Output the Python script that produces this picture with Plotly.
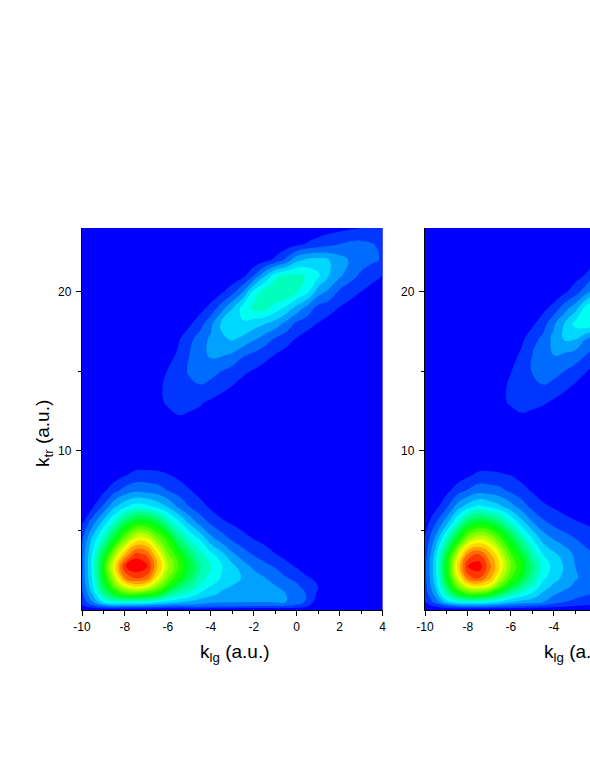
import numpy as np
import plotly.graph_objects as go

k_rows = [0, .25, .5, 1, 1.5, 2, 2.75, 3.5, 4.5, 5.5, 6.5, 7.5, 8.5, 9.5, 10,
          11, 12, 13, 14, 15, 16, 17, 18, 19, 20, 21, 22, 23, 24]
x_cols_left = [-10, -9.5, -9, -8.5, -8, -7.5, -7, -6.5, -6, -5.5, -5, -4.5, -4, -3.5, -3, -2.5, -2,
               -1.5, -1, -.5, 0, .5, 1, 1.5, 2, 2.5, 3, 3.5, 4]
x_cols_right = [-10, -9.5, -9, -8.5, -8, -7.5, -7, -6.5, -6, -5.5, -5, -4.5, -4, -3.5, -3, -2.5, -2]
x_ticks = [-10, -8, -6, -4, -2, 0, 2, 4]
x_tick_text = ["-10", "-8", "-6", "-4", "-2", "0", "2", "4"]

# One list per x column, one value per k row (k = 0 .. 10)
low_left = [
 [0,.04,.06,.085,.10,.11,.115,.113,.09,.045,.01,0,0,0,0],
 [0,.09,.15,.205,.245,.26,.27,.26,.215,.13,.045,.005,0,0,0],
 [0,.13,.25,.36,.43,.47,.5,.44,.32,.22,.11,.04,.002,0,0],
 [0,.16,.29,.47,.59,.67,.735,.64,.46,.31,.19,.085,.02,0,0],
 [0,.15,.29,.55,.71,.85,.945,.80,.6,.42,.24,.12,.045,.005,0],
 [0,.15,.29,.56,.765,.9,1.0,.92,.71,.49,.275,.14,.065,.01,0],
 [0,.14,.28,.53,.735,.88,.965,.89,.71,.49,.265,.135,.065,.015,.005],
 [0,.13,.25,.5,.63,.74,.81,.76,.61,.44,.235,.125,.06,.02,.01],
 [0,.12,.23,.38,.52,.6,.665,.61,.52,.34,.195,.10,.052,.015,.005],
 [0,.11,.21,.32,.41,.5,.555,.51,.38,.265,.14,.08,.035,.01,0],
 [0,.125,.19,.29,.35,.41,.45,.40,.30,.19,.10,.055,.015,0,0],
 [0,.125,.175,.24,.29,.33,.36,.32,.24,.13,.07,.03,.005,0,0],
 [0,.12,.16,.215,.25,.28,.30,.265,.165,.09,.04,.01,0,0,0],
 [0,.115,.155,.19,.215,.245,.255,.215,.125,.06,.02,0,0,0,0],
 [0,.11,.155,.175,.198,.22,.215,.16,.09,.043,.01,0,0,0,0],
 [0,.105,.152,.165,.18,.195,.17,.125,.065,.03,.005,0,0,0,0],
 [0,.10,.15,.16,.172,.17,.14,.095,.048,.02,0,0,0,0,0],
 [0,.10,.15,.16,.16,.153,.115,.075,.032,.005,0,0,0,0,0],
 [0,.10,.155,.163,.153,.13,.095,.052,.02,0,0,0,0,0,0],
 [0,.095,.15,.15,.12,.105,.065,.035,.01,0,0,0,0,0,0],
 [0,.085,.135,.13,.11,.085,.045,.02,0,0,0,0,0,0,0],
 [0,.055,.085,.095,.075,.055,.025,.01,0,0,0,0,0,0,0],
 [0,.01,.02,.04,.05,.04,.02,.005,0,0,0,0,0,0,0],
 [0,0,.005,.01,.015,.015,.005,0,0,0,0,0,0,0,0],
 [0]*15, [0]*15, [0]*15, [0]*15, [0]*15,
]
# One list per k row (k = 11 .. 24), values for x = -7, -6.5 ... 4
high_left = [
 [0,0,.005,.01,.01,.005,0,0,0,0,0,0,0,0,0,0,0,0,0,0,0,0,0],
 [0,.01,.035,.045,.04,.03,.02,.01,0,0,0,0,0,0,0,0,0,0,0,0,0,0,0],
 [.01,.04,.055,.065,.062,.055,.04,.025,.012,0,0,0,0,0,0,0,0,0,0,0,0,0,0],
 [.01,.04,.06,.08,.09,.095,.08,.065,.047,.03,.015,.005,0,0,0,0,0,0,0,0,0,0,0],
 [0,.025,.053,.08,.105,.125,.12,.10,.08,.06,.045,.03,.015,.005,0,0,0,0,0,0,0,0,0],
 [0,.005,.03,.06,.10,.135,.157,.155,.14,.105,.087,.067,.047,.03,.015,.005,0,0,0,0,0,0,0],
 [0,0,.015,.045,.085,.125,.16,.19,.205,.185,.155,.125,.09,.07,.045,.025,.01,0,0,0,0,0,0],
 [0,0,0,.02,.04,.08,.135,.21,.25,.245,.225,.205,.18,.135,.09,.07,.048,.03,.015,.005,0,0,0],
 [0,0,0,0,.01,.03,.065,.125,.195,.27,.315,.325,.28,.24,.185,.135,.085,.07,.048,.03,.015,.005,0],
 [0,0,0,0,0,0,.015,.04,.08,.15,.265,.325,.352,.351,.305,.26,.175,.14,.09,.07,.05,.03,.015],
 [0,0,0,0,0,0,0,0,.015,.035,.10,.19,.28,.31,.315,.295,.26,.2,.16,.12,.09,.07,.05],
 [0,0,0,0,0,0,0,0,0,0,.01,.03,.06,.11,.185,.21,.215,.2,.17,.145,.125,.11,.095],
 [0,0,0,0,0,0,0,0,0,0,0,0,.01,.02,.035,.055,.07,.085,.10,.112,.113,.103,.09],
 [0,0,0,0,0,0,0,0,0,0,0,0,0,0,.005,.01,.02,.03,.035,.043,.05,.055,.06],
]
low_right = [
 [0,.03,.05,.07,.08,.085,.085,.075,.055,.025,.005,0,0,0,0],
 [0,.06,.12,.175,.21,.23,.24,.225,.165,.095,.035,.005,0,0,0],
 [0,.10,.22,.33,.41,.46,.49,.44,.31,.18,.09,.035,.002,0,0],
 [0,.13,.27,.46,.60,.69,.75,.67,.47,.30,.17,.075,.02,0,0],
 [0,.14,.28,.54,.72,.87,.955,.86,.63,.42,.225,.105,.04,.002,0],
 [0,.14,.28,.55,.75,.9,.985,.9,.69,.47,.26,.13,.06,.01,0],
 [0,.13,.26,.5,.71,.82,.87,.82,.66,.45,.24,.125,.06,.015,.005],
 [0,.12,.23,.42,.58,.68,.745,.70,.56,.39,.21,.115,.055,.02,.01],
 [0,.11,.2,.33,.46,.55,.6,.56,.45,.30,.17,.09,.048,.015,.005],
 [0,.10,.18,.28,.37,.45,.5,.45,.34,.22,.125,.07,.03,.005,0],
 [0,.09,.17,.24,.30,.35,.38,.34,.25,.155,.085,.045,.01,0,0],
 [0,.08,.15,.19,.23,.26,.28,.25,.18,.11,.06,.025,.005,0,0],
 [0,.07,.12,.155,.19,.22,.235,.21,.145,.085,.045,.012,0,0,0],
 [0,.06,.10,.135,.165,.185,.195,.18,.12,.07,.03,.005,0,0,0],
 [0,.05,.085,.12,.14,.155,.15,.14,.10,.055,.02,0,0,0,0],
 [0,.045,.075,.105,.125,.135,.125,.115,.08,.045,.01,0,0,0,0],
 [0,.04,.065,.095,.11,.115,.105,.095,.065,.035,.005,0,0,0,0],
]
# One list per k row (k = 11 .. 24), values for x = -7, -6.5 ... -2
high_right = [
 [0,0,0,.005,.005,0,0,0,0,0,0],
 [0,.01,.03,.04,.035,.025,.015,.01,0,0,0],
 [0,.04,.055,.065,.06,.055,.04,.025,.01,0,0],
 [.005,.035,.06,.08,.09,.095,.08,.06,.04,.025,.01],
 [0,.02,.048,.075,.102,.125,.12,.10,.08,.052,.035],
 [0,.005,.03,.06,.10,.135,.152,.14,.125,.10,.065],
 [0,0,.01,.04,.08,.115,.165,.205,.2,.15,.12],
 [0,0,0,.02,.04,.075,.14,.2,.265,.29,.26],
 [0,0,0,0,.015,.035,.065,.125,.175,.265,.33],
 [0,0,0,0,0,0,.015,.04,.075,.13,.19],
 [0,0,0,0,0,0,0,0,.03,.055,.115],
 [0,0,0,0,0,0,0,0,.005,.02,.04],
 [0,0,0,0,0,0,0,0,0,0,.01],
 [0,0,0,0,0,0,0,0,0,0,0],
]

band_colors = ["#0000ff", "#0036ff", "#006bff", "#00a1ff", "#00d7ff", "#00fff2", "#00ffbc", "#00ff86",
               "#00ff50", "#00ff1b", "#1bff00", "#50ff00", "#86ff00", "#bcff00", "#f2ff00", "#ffd700",
               "#ffa100", "#ff6b00", "#ff3600", "#ff0000"]
colorscale = []
for i, c in enumerate(band_colors):
    colorscale += [[i / 20, c], [(i + 1) / 20, c]]

W, H = 590, 763
font = "Liberation Sans, Arial, sans-serif"


def panel(x, low, high, xa, ya):
    low_rows = np.array(low).T
    high_rows = np.array(high)
    pad = np.zeros((high_rows.shape[0], len(x) - high_rows.shape[1]))
    z = np.vstack([low_rows, np.hstack([pad, high_rows])])
    return go.Contour(x=x, y=k_rows, z=z, xaxis=xa, yaxis=ya, zmin=0, zmax=1, colorscale=colorscale,
                      showscale=False, autocontour=False,
                      contours=dict(start=.05, end=.95, size=.05, coloring="fill", showlines=False),
                      line=dict(width=0, smoothing=1.3))


fig = go.Figure([panel(x_cols_left, low_left, high_left, "x", "y"),
                 panel(x_cols_right, low_right, high_right, "x2", "y2")])

xcommon = dict(showgrid=False, zeroline=False, showline=True, linecolor="black", linewidth=1.3,
               ticks="outside", ticklen=5, tickwidth=1, tickcolor="black",
               tickmode="array", tickvals=x_ticks, ticktext=x_tick_text,
               minor=dict(ticks="outside", ticklen=3, tickwidth=1, tickcolor="black", dtick=1, tick0=-10),
               tickfont=dict(family=font, size=12, color="black"))
ycommon = dict(showgrid=False, zeroline=False, showline=True, linecolor="black", linewidth=1.3,
               ticks="outside", ticklen=5, tickwidth=1, tickcolor="black", tickvals=[10, 20],
               ticklabelstandoff=2,
               minor=dict(ticks="outside", ticklen=3, tickwidth=1, tickcolor="black", tickvals=[5, 15]),
               range=[0, 24], tickfont=dict(family=font, size=12, color="black"),
               domain=[(H - 610) / H, (H - 228) / H])

fig.update_layout(
    width=W, height=H, autosize=False, margin=dict(l=0, r=0, t=0, b=0, autoexpand=False),
    paper_bgcolor="white", plot_bgcolor="#0000ff", showlegend=False,
    xaxis=dict(xcommon, domain=[82 / W, 382.5 / W], range=[-10, 4], anchor="y"),
    yaxis=dict(ycommon, anchor="x"),
    xaxis2=dict(xcommon, domain=[425 / W, 1], range=[-10, -2.308], anchor="y2"),
    yaxis2=dict(ycommon, anchor="x2"),
    annotations=[
        dict(text="k<sub>lg</sub> (a.u.)", x=198 / W, y=(H - 653) / H, xref="paper", yref="paper",
             xanchor="left", yanchor="middle", showarrow=False, font=dict(family=font, size=19, color="black")),
        dict(text="k<sub>lg</sub> (a.u.)", x=542 / W, y=(H - 653) / H, xref="paper", yref="paper",
             xanchor="left", yanchor="middle", showarrow=False, font=dict(family=font, size=19, color="black")),
        dict(text="k<sub>tr</sub> (a.u.)", x=44 / W, y=(H - 434) / H, xref="paper", yref="paper", textangle=-90,
             xanchor="center", yanchor="middle", showarrow=False, font=dict(family=font, size=19, color="black")),
    ],
)
fig.write_html("out.html", post_script="document.body.style.margin='0';",
               config=dict(displayModeBar=False))
